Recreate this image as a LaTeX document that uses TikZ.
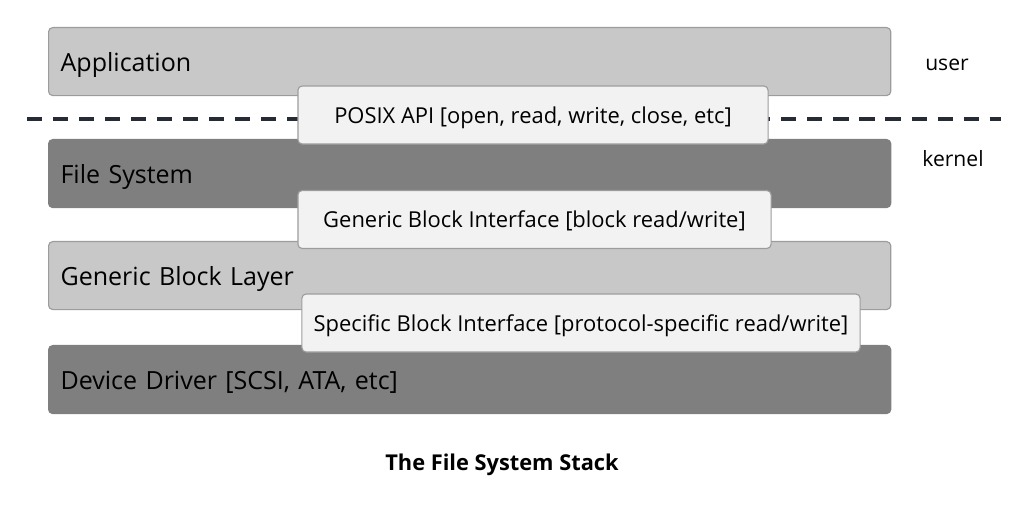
\documentclass[tikz,border=0pt]{standalone}
\usepackage{fontspec}
\setmainfont{Open Sans}
\usetikzlibrary{calc}
\definecolor{lightlayer}{HTML}{C8C8C8}
\definecolor{darklayer}{HTML}{7F7F7F}
\definecolor{ifacefill}{HTML}{F2F2F2}
\definecolor{edgegray}{HTML}{9C9C9C}
\definecolor{sepline}{HTML}{262B35}
\tikzset{
  layer/.style={draw=edgegray,line width=0.8pt,rounded corners=3pt,anchor=north west,
    minimum height=1.7cm,text width=20.45cm,inner xsep=0.3cm,align=left,
    text height=13.5pt,text depth=0pt,font=\fontsize{17.8}{21}\selectfont},
  lightbox/.style={layer,fill=lightlayer},
  darkbox/.style={layer,fill=darklayer,draw=darklayer},
  iface/.style={draw=edgegray,line width=0.8pt,fill=ifacefill,rounded corners=3pt,
    minimum height=1.45cm,inner xsep=0pt,text height=12pt,text depth=0pt,
    font=\fontsize{15.6}{18}\selectfont},
  side/.style={font=\fontsize{15}{18}\selectfont}
}
\begin{document}
\begin{tikzpicture}[x=0.025cm,y=-0.025cm]
              \useasboundingbox (0,0) rectangle (1034,510);
              \node[lightbox](app)at(48,27){Application};
              \node[darkbox](fs)at(48,139){File System};
              \node[lightbox](gbl)at(48,241){Generic Block Layer};
              \node[darkbox](dd)at(48,345){Device Driver [SCSI, ATA, etc]};
              \coordinate(sepL)at(27,119);
              \coordinate(sepR)at(1001,119);
              \draw[sepline,line width=2.35pt,dash pattern=on 10.7pt off 7.8pt](sepL)--(sepR);
              \node[iface,minimum width=11.75cm](posix)at(533,115){POSIX API [open, read, write, close, etc]};
              \node[iface,minimum width=11.825cm](gbi)at(534.5,219.5){Generic Block Interface [block read/write]};
              \node[iface,minimum width=13.95cm](sbi)at(581,323){Specific Block Interface [protocol-specific read/write]};
              \node[side](user)at(947,65){user};
              \node[side](kernel)at(953,159){kernel};
              \node[font=\fontsize{15.5}{18}\selectfont\bfseries](title)at(502,465){The File System Stack};
            \end{tikzpicture}
\end{document}
